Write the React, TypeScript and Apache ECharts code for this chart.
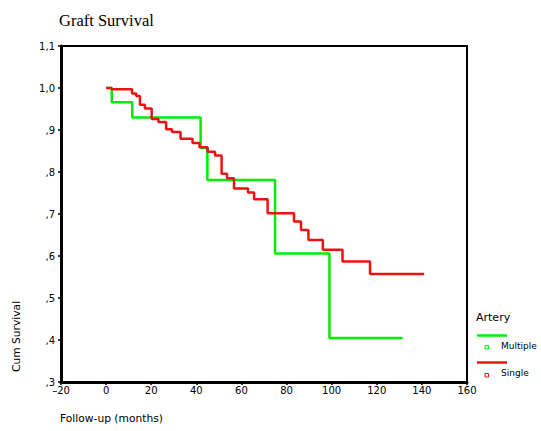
import React, { useEffect, useRef } from "react";
import * as echarts from "echarts";

// Kaplan-Meier step points: [month, survival after event]
const multipleMonths = [0, 2.5, 11.6, 41.9, 44.9, 74.9, 99.0, 131.5];
const multipleSurvival = [1.0, 0.966, 0.93, 0.857, 0.781, 0.606, 0.405, 0.405];

const singleMonths = [
  0, 2.5, 11.5, 13.4, 15.0, 17.2, 20.2, 23.2, 26.6, 29.2, 33.0, 38.3, 41.4, 45.0,
  48.3, 51.2, 53.6, 56.7, 62.9, 65.6, 71.6, 83.3, 86.4, 89.7, 96.1, 104.8, 117.0, 141.0,
];
const singleSurvival = [
  1.0, 0.997, 0.987, 0.981, 0.96, 0.951, 0.926, 0.919, 0.902, 0.895, 0.879, 0.869, 0.859,
  0.848, 0.839, 0.796, 0.785, 0.761, 0.751, 0.735, 0.702, 0.682, 0.662, 0.638, 0.615,
  0.587, 0.557, 0.557,
];

const seriesNames = ["Multiple", "Single"];
const seriesColors = ["#00ee00", "#ee1111"];

const xTicks = { min: -20, max: 160, interval: 20 };
const yTicks = { min: 0.3, max: 1.1, interval: 0.1 };

const SANS = "DejaVu Sans";
const SERIF = "Liberation Serif";

export default function App() {
  const ref = useRef<HTMLDivElement>(null);
  useEffect(() => {
    if (!ref.current) return;
    const chart = echarts.init(ref.current, null, { renderer: "svg" });
    const mk = (xs: number[], ys: number[]) => xs.map((x, i) => [x, ys[i]]);
    chart.setOption({
      animation: false,
      backgroundColor: "#ffffff",
      grid: {
        left: 61,
        top: 46,
        width: 406,
        height: 336,
        show: true,
        borderColor: "#000",
        borderWidth: 2,
        backgroundColor: "transparent",
      },
      xAxis: {
        type: "value",
        min: xTicks.min,
        max: xTicks.max,
        interval: xTicks.interval,
        splitLine: { show: false },
        axisLine: { show: true, onZero: false, lineStyle: { color: "#000", width: 3 } },
        axisTick: { show: true, length: 3, lineStyle: { color: "#000", width: 1.5 } },
        axisLabel: {
          fontFamily: SANS,
          fontSize: 10,
          color: "#000",
          margin: 3,
          formatter: (v: number) => (v < 0 ? "\u2013" + Math.abs(v) : String(v)),
        },
      },
      yAxis: {
        type: "value",
        min: yTicks.min,
        max: yTicks.max,
        interval: yTicks.interval,
        splitLine: { show: false },
        axisLine: { show: true, onZero: false, lineStyle: { color: "#000", width: 3 } },
        axisTick: { show: true, length: 3, lineStyle: { color: "#000", width: 1.5 } },
        axisLabel: {
          fontFamily: SANS,
          fontSize: 10,
          color: "#000",
          margin: 6,
          formatter: (v: number) => {
            const t = Math.round(v * 10);
            return t >= 10 ? (t / 10).toFixed(1).replace(".", ",") : "," + t;
          },
        },
      },
      series: [
        {
          name: seriesNames[0],
          type: "line",
          step: "end",
          symbol: "none",
          data: mk(multipleMonths, multipleSurvival),
          lineStyle: { color: seriesColors[0], width: 2.5 },
          itemStyle: { color: seriesColors[0] },
        },
        {
          name: seriesNames[1],
          type: "line",
          step: "end",
          symbol: "none",
          data: mk(singleMonths, singleSurvival),
          lineStyle: { color: seriesColors[1], width: 2.5 },
          itemStyle: { color: seriesColors[1] },
        },
      ],
      graphic: [
        {
          type: "text",
          left: 59,
          top: 12,
          style: { text: "Graft Survival", font: `16.5px "${SERIF}"`, fill: "#000" },
        },
        {
          type: "text",
          x: 60,
          y: 418,
          style: {
            text: "Follow-up (months)",
            font: `10.7px "${SANS}"`,
            fill: "#000",
            verticalAlign: "middle",
          },
        },
        {
          type: "text",
          x: 16,
          y: 372,
          rotation: Math.PI / 2,
          style: {
            text: "Cum Survival",
            font: `10.7px "${SANS}"`,
            fill: "#000",
            verticalAlign: "middle",
            align: "left",
          },
        },
        {
          type: "text",
          x: 476,
          y: 317,
          style: { text: "Artery", font: `11px "${SANS}"`, fill: "#000", verticalAlign: "middle" },
        },
        {
          type: "line",
          shape: { x1: 477, y1: 335.5, x2: 507, y2: 335.5 },
          style: { stroke: seriesColors[0], lineWidth: 2.5 },
        },
        {
          type: "rect",
          shape: { x: 485, y: 345.5, width: 3.5, height: 3.5 },
          style: { stroke: seriesColors[0], fill: "#fff", lineWidth: 1 },
        },
        {
          type: "text",
          x: 501,
          y: 346,
          style: { text: seriesNames[0], font: `9px "${SANS}"`, fill: "#000", verticalAlign: "middle" },
        },
        {
          type: "line",
          shape: { x1: 477, y1: 362.5, x2: 507, y2: 362.5 },
          style: { stroke: seriesColors[1], lineWidth: 2.5 },
        },
        {
          type: "rect",
          shape: { x: 485, y: 373.5, width: 3.5, height: 3.5 },
          style: { stroke: seriesColors[1], fill: "#fff", lineWidth: 1 },
        },
        {
          type: "text",
          x: 501,
          y: 373,
          style: { text: seriesNames[1], font: `9px "${SANS}"`, fill: "#000", verticalAlign: "middle" },
        },
      ],
    });
    return () => chart.dispose();
  }, []);
  return (
    <div
      ref={ref}
      style={{ position: "fixed", left: 0, top: 0, width: 541, height: 431, background: "#fff" }}
    />
  );
}
